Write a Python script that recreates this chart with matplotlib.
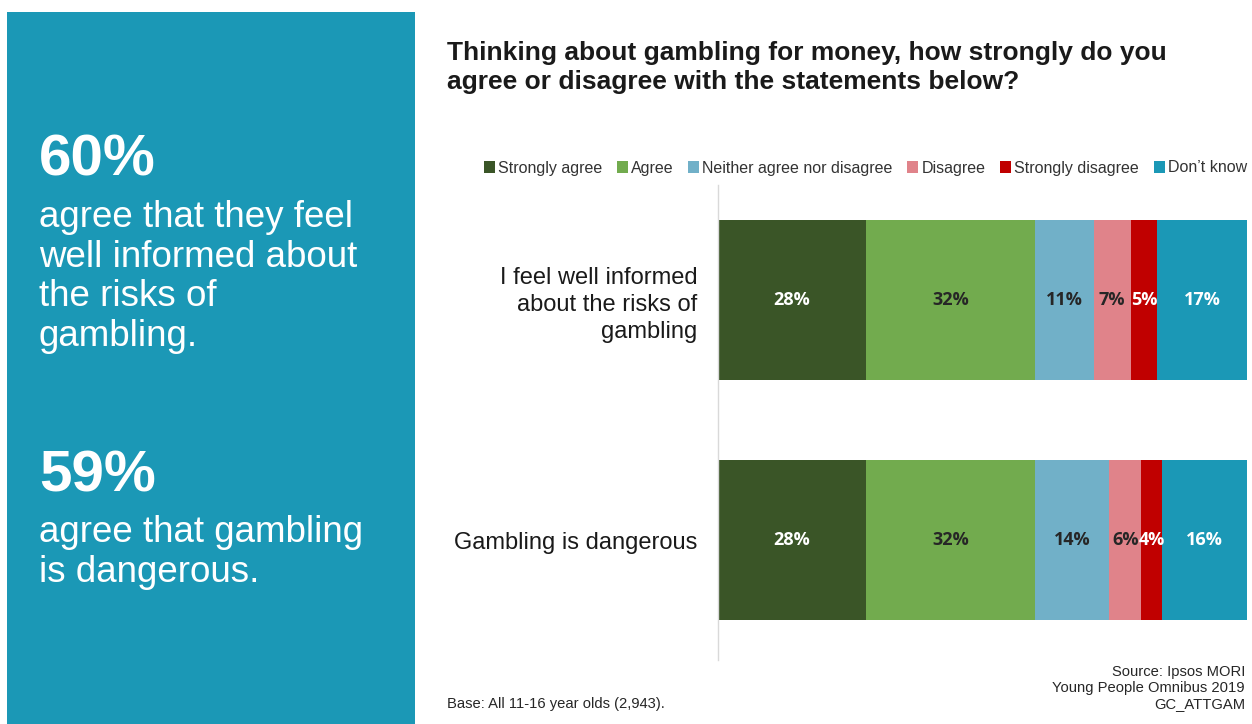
import matplotlib.pyplot as plt
from matplotlib.patches import Rectangle

# Data
statements = ["I feel well informed\nabout the risks of\ngambling", "Gambling is dangerous"]
responses = ["Strongly agree", "Agree", "Neither agree nor disagree",
             "Disagree", "Strongly disagree", "Don\u2019t know"]
informed = [28, 32, 11, 7, 5, 17]
dangerous = [28, 32, 14, 6, 4, 16]

colors = ["#3a5527", "#72ab4e", "#71b0c8", "#e0838a", "#c00000", "#1b98b6"]
label_colors = ["white", "#262626", "#262626", "#262626", "white", "white"]

plt.rcParams['font.family'] = ['Liberation Sans', 'DejaVu Sans']

W, H = 1252, 724
fig = plt.figure(figsize=(W / 100, H / 100), dpi=100)

# Left teal panel
fig.patches.append(Rectangle((7 / W, 0), (415 - 7) / W, (724 - 12) / H,
                             transform=fig.transFigure, facecolor="#1b98b6",
                             edgecolor="none", zorder=0))
fig.text(39 / W, 1 - 160 / H, "60%", color="white", fontsize=42, weight="bold",
         va="center", ha="left")
fig.text(39 / W, 1 - 200 / H, "agree that they feel\nwell informed about\nthe risks of\ngambling.",
         color="white", fontsize=26.5, va="top", ha="left", linespacing=1.17)
fig.text(39 / W, 1 - 476 / H, "59%", color="white", fontsize=42, weight="bold",
         va="center", ha="left")
fig.text(39 / W, 1 - 515 / H, "agree that gambling\nis dangerous.",
         color="white", fontsize=26.5, va="top", ha="left", linespacing=1.17)

# Title
fig.text(447 / W, 1 - 41 / H,
         "Thinking about gambling for money, how strongly do you\nagree or disagree with the statements below?",
         fontsize=19, weight="bold", color="#1a1a1a", va="top", ha="left", linespacing=1.28)

# Chart axes
ax_left, ax_right = 718 / W, 1247 / W
ax_top, ax_bot = 1 - 185 / H, 1 - 660 / H
ax = fig.add_axes([ax_left, ax_bot, ax_right - ax_left, ax_top - ax_bot])

values = [informed, dangerous]
ypos = [0, 1]
for i, name in enumerate(responses):
    lefts = [sum(v[:i]) for v in values]
    widths = [v[i] for v in values]
    bars = ax.barh(ypos, widths, left=lefts, height=0.667, color=colors[i],
                   label=name, edgecolor="none")
    for b, w in zip(bars, widths):
        ax.text(b.get_x() + b.get_width() / 2, b.get_y() + b.get_height() / 2,
                f"{w}%", ha="center", va="center", fontsize=13, weight="bold",
                color=label_colors[i], family=["Open Sans", "DejaVu Sans"])

ax.set_xlim(0, 100)
ax.set_ylim(1.5, -0.48)
ax.set_yticks(ypos)
ax.set_yticklabels(statements, fontsize=17, color="#1a1a1a", linespacing=1.27)
ax.tick_params(axis="y", length=0, pad=15)
ax.set_xticks([])
for s in ["top", "right", "bottom"]:
    ax.spines[s].set_visible(False)
ax.spines["left"].set_color("#d9d9d9")
ax.spines["left"].set_linewidth(1)

leg = fig.legend(loc="center right", bbox_to_anchor=(1247 / W, 1 - 168 / H),
                 ncol=6, frameon=False, fontsize=11.5, handlelength=0.7,
                 handleheight=0.7, handletextpad=0.2, columnspacing=0.9,
                 borderaxespad=0, borderpad=0)
for t in leg.get_texts():
    t.set_color("#333333")

# Footer
fig.text(447 / W, 1 - 704 / H, "Base: All 11-16 year olds (2,943).",
         fontsize=10.6, color="#262626", va="center", ha="left")
fig.text(1245 / W, 1 - 665 / H, "Source: Ipsos MORI\nYoung People Omnibus 2019\nGC_ATTGAM",
         fontsize=10.6, color="#262626", va="top", ha="right", linespacing=1.2)

fig.savefig("out.png", dpi=100)
